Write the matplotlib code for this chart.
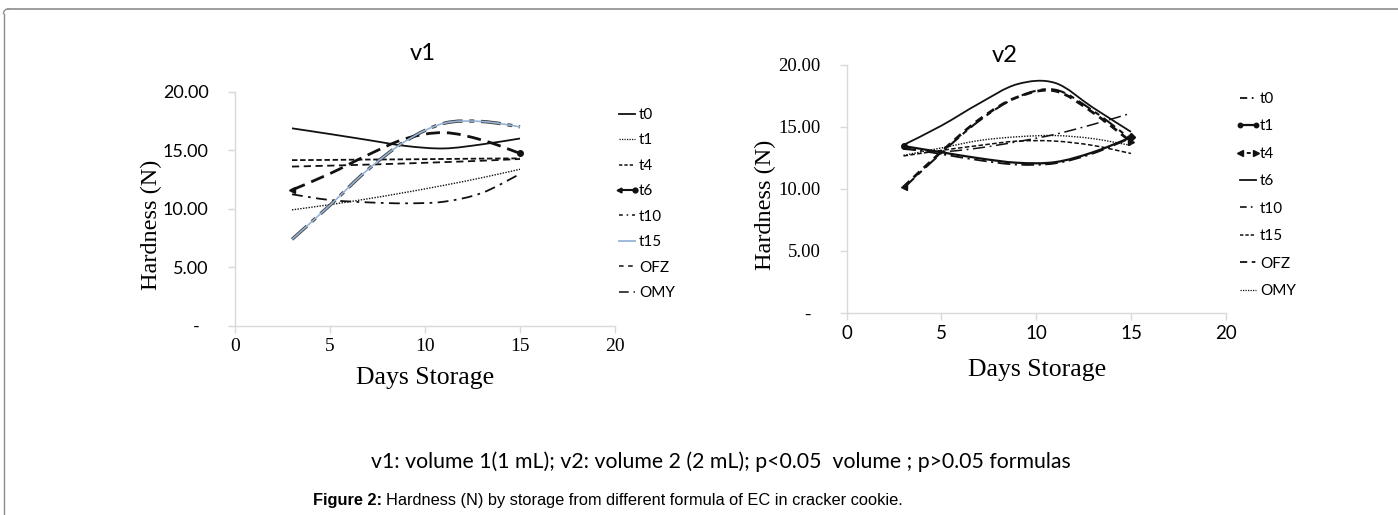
import matplotlib
matplotlib.use('Agg')
import matplotlib.pyplot as plt
from matplotlib.path import Path
from matplotlib.patches import PathPatch
from matplotlib.lines import Line2D
from matplotlib.legend_handler import HandlerBase
import numpy as np

# ---------------- data ----------------
days = [3, 5, 7, 9, 11, 13, 15]
series_names = ["t0", "t1", "t4", "t6", "t10", "t15", "OFZ", "OMY"]

v1_t0 = [16.87, 16.38, 15.87, 15.36, 15.15, 15.50, 16.00]
v1_t1 = [9.90, 10.35, 10.85, 11.40, 12.00, 12.65, 13.37]
v1_t4 = [14.15, 14.17, 14.20, 14.22, 14.25, 14.28, 14.30]
v1_t6 = [11.60, 13.00, 14.60, 16.00, 16.50, 15.87, 14.73]
v1_t10 = [11.23, 10.74, 10.54, 10.46, 10.60, 11.35, 12.97]
v1_t15 = [7.38, 10.30, 13.35, 15.80, 17.30, 17.45, 17.00]
v1_OFZ = [13.60, 13.68, 13.77, 13.87, 13.98, 14.10, 14.25]
v1_OMY = [7.38, 10.30, 13.35, 15.80, 17.30, 17.45, 17.00]

v2_t0 = [13.30, 12.80, 12.30, 11.95, 12.05, 12.85, 14.10]
v2_t1 = [13.45, 12.95, 12.46, 12.10, 12.15, 12.95, 14.15]
v2_t4 = [10.15, 13.00, 15.60, 17.40, 17.90, 16.15, 13.80]
v2_t6 = [13.54, 15.10, 16.90, 18.45, 18.55, 16.55, 14.60]
v2_t10 = [13.20, 13.00, 13.30, 13.80, 14.40, 15.20, 16.10]
v2_t15 = [12.65, 13.10, 13.50, 13.85, 13.85, 13.50, 12.85]
v2_OFZ = [10.05, 12.90, 15.50, 17.40, 18.00, 16.30, 14.00]
v2_OMY = [12.70, 13.30, 13.90, 14.20, 14.30, 14.05, 13.50]

x_ticks = [0, 5, 10, 15, 20]
y_ticks = [0, 5, 10, 15, 20]
y_tick_labels = ["-  ", "5.00", "10.00", "15.00", "20.00"]

SANS = ['Lato', 'DejaVu Sans']
SERIF = ['Liberation Serif', 'DejaVu Serif']
ARIAL = ['Liberation Sans Narrow', 'Liberation Sans', 'DejaVu Sans']

W, H = 1398, 515
fig = plt.figure(figsize=(W / 100, H / 100), dpi=100)


def smooth_path(x, y):
    """Excel-like smoothed line (cubic Bezier through the points)."""
    pts = np.column_stack([x, y]).astype(float)
    n = len(pts)
    verts = [pts[0]]
    codes = [Path.MOVETO]
    for i in range(n - 1):
        p0 = pts[i - 1] if i > 0 else pts[i]
        p1 = pts[i]
        p2 = pts[i + 1]
        p3 = pts[i + 2] if i + 2 < n else pts[i + 1]
        c1 = p1 + (p2 - p0) / 6.0
        c2 = p2 - (p3 - p1) / 6.0
        verts += [c1, c2, p2]
        codes += [Path.CURVE4] * 3
    return Path(verts, codes)


def draw(ax, y, color, lw, ls, zorder=3):
    ax.add_patch(PathPatch(smooth_path(days, y), facecolor='none', edgecolor=color,
                           lw=lw, linestyle=ls, capstyle='butt', joinstyle='round',
                           zorder=zorder))


class EndMarkerHandle:
    def __init__(self, color, lw, ls, m0, m1, ms):
        self.color, self.lw, self.ls = color, lw, ls
        self.m0, self.m1, self.ms = m0, m1, ms


class EndMarkerHandler(HandlerBase):
    def create_artists(self, legend, h, xdescent, ydescent, width, height, fontsize, trans):
        y = height / 2.0 - ydescent
        x0, x1 = -xdescent + 1.5, width - xdescent - 1.5
        arts = [Line2D([x0, x1], [y, y], color=h.color, lw=h.lw, ls=h.ls)]
        if h.m0:
            arts.append(Line2D([x0], [y], lw=0, marker=h.m0, ms=h.ms, color=h.color))
        if h.m1:
            arts.append(Line2D([x1], [y], lw=0, marker=h.m1, ms=h.ms, color=h.color))
        for a in arts:
            a.set_transform(trans)
        return arts


def px_axes(l, r, b, t):
    return fig.add_axes([l / W, 1 - b / H, (r - l) / W, (b - t) / H])


def style_axes(ax, xfont, yfont, xsize, ysize):
    ax.set_xlim(0, 20)
    ax.set_ylim(0, 20)
    for s in ['top', 'right']:
        ax.spines[s].set_visible(False)
    for s in ['left', 'bottom']:
        ax.spines[s].set_color('#d9d9d9')
        ax.spines[s].set_linewidth(1.0)
    ax.set_xticks(x_ticks)
    ax.set_yticks(y_ticks)
    ax.set_yticklabels(y_tick_labels)
    ax.tick_params(axis='both', direction='out', length=5, color='#d9d9d9', width=1.0)
    ax.tick_params(axis='y', pad=14)
    ax.tick_params(axis='x', pad=4)
    for lab in ax.get_xticklabels():
        lab.set_fontfamily(xfont)
        lab.set_fontsize(xsize)
    for lab in ax.get_yticklabels():
        lab.set_fontfamily(yfont)
        lab.set_fontsize(ysize)
    ax.patch.set_alpha(0)


K = '#111111'
LEG_KW = dict(loc='upper left', frameon=False, handlelength=1.3, handletextpad=0.15,
              prop={'family': SANS, 'size': 11}, borderaxespad=0, borderpad=0)

# ---------------- left chart (v1) ----------------
ax1 = px_axes(235, 615, 325.7, 91.7)
style_axes(ax1, SERIF, SANS, 14, 13)
draw(ax1, v1_t0, K, 1.3, '-')
draw(ax1, v1_t1, K, 1.0, (0, (1, 1)))
draw(ax1, v1_t4, K, 1.3, (0, (3, 1.5)))
draw(ax1, v1_t6, K, 2.0, (0, (5, 2.5)), zorder=4)
ax1.plot([days[0]], [v1_t6[0]], marker='<', ms=4, color=K, zorder=5)
ax1.plot([days[-1]], [v1_t6[-1]], marker='o', ms=4, color=K, zorder=5)
draw(ax1, v1_t10, K, 1.3, (0, (6, 3, 1.5, 3)))
draw(ax1, v1_OMY, '#404040', 2.4, (0, (6, 2, 1.5, 2)), zorder=3)
draw(ax1, v1_t15, '#95b3d7', 1.2, '-', zorder=4)
draw(ax1, v1_OFZ, K, 1.3, (0, (4, 2.5)))

h1 = [
    EndMarkerHandle(K, 1.3, '-', None, None, 0),
    EndMarkerHandle(K, 0.9, (0, (1, 1)), None, None, 0),
    EndMarkerHandle(K, 1.1, (0, (2.2, 1.3)), None, None, 0),
    EndMarkerHandle(K, 1.5, '-', '<', 'o', 3.5),
    EndMarkerHandle(K, 1.1, (0, (2.5, 2.5, 1, 2.5)), None, None, 0),
    EndMarkerHandle('#95b3d7', 1.3, '-', None, None, 0),
    EndMarkerHandle(K, 1.1, (0, (3, 3)), None, None, 0),
    EndMarkerHandle('#404040', 1.4, (0, (5, 2.5, 1.2, 2.5)), None, None, 0),
]
fig.legend(h1, series_names, bbox_to_anchor=(617 / W, 1 - 108 / H),
           labelspacing=0.75, handler_map={EndMarkerHandle: EndMarkerHandler()}, **LEG_KW)

fig.text(423 / W, 1 - 53 / H, 'v1', family=SANS, fontsize=17, ha='center', va='center')
fig.text(151 / W, 1 - 225 / H, 'Hardness (N)', family=SERIF, fontsize=17.5,
         rotation=90, ha='center', va='center')
fig.text(425 / W, 1 - 378 / H, 'Days Storage', family=SERIF, fontsize=18.5,
         ha='center', va='center')

# ---------------- right chart (v2) ----------------
ax2 = px_axes(846.7, 1225.7, 312.5, 65)
style_axes(ax2, SANS, SERIF, 13.5, 13.5)
draw(ax2, v2_t0, K, 1.3, (0, (7, 2.5, 1.2, 2.5)))
draw(ax2, v2_t1, K, 1.6, '-')
ax2.plot([days[0]], [v2_t1[0]], marker='o', ms=4, color=K, zorder=5)
ax2.plot([days[-1]], [v2_t1[-1]], marker='D', ms=4, color=K, zorder=5)
draw(ax2, v2_t4, K, 2.0, (0, (3, 2)), zorder=4)
ax2.plot([days[0]], [v2_t4[0]], marker='<', ms=5, color=K, zorder=5)
ax2.plot([days[-1]], [v2_t4[-1]], marker='>', ms=5, color=K, zorder=5)
draw(ax2, v2_t6, K, 1.3, '-')
draw(ax2, v2_t10, K, 1.1, (0, (8, 3, 1.2, 3)))
draw(ax2, v2_t15, K, 1.1, (0, (3, 1.5)))
draw(ax2, v2_OFZ, K, 1.5, (0, (7, 2.5, 2.5, 2.5)))
draw(ax2, v2_OMY, K, 1.0, (0, (1, 1)))

h2 = [
    EndMarkerHandle(K, 1.3, (0, (4, 2.5, 1, 2.5)), None, None, 0),
    EndMarkerHandle(K, 1.6, '-', 'o', 'o', 3.2),
    EndMarkerHandle(K, 1.4, (0, (2, 1.5)), '<', '>', 4),
    EndMarkerHandle(K, 1.3, '-', None, None, 0),
    EndMarkerHandle(K, 1.2, (0, (4, 2.5, 1, 2.5)), None, None, 0),
    EndMarkerHandle(K, 1.1, (0, (2.2, 1.3)), None, None, 0),
    EndMarkerHandle(K, 1.3, (0, (4, 2.5, 2, 2.5)), None, None, 0),
    EndMarkerHandle(K, 0.9, (0, (1, 1)), None, None, 0),
]
fig.legend(h2, series_names, bbox_to_anchor=(1238 / W, 1 - 92 / H),
           labelspacing=0.88, handler_map={EndMarkerHandle: EndMarkerHandler()}, **LEG_KW)

fig.text(1005 / W, 1 - 55 / H, 'v2', family=SANS, fontsize=17, ha='center', va='center')
fig.text(765 / W, 1 - 205 / H, 'Hardness (N)', family=SERIF, fontsize=17.5,
         rotation=90, ha='center', va='center')
fig.text(1037 / W, 1 - 370 / H, 'Days Storage', family=SERIF, fontsize=18.5,
         ha='center', va='center')

# ---------------- captions and frame ----------------
fig.text(721 / W, 1 - 462 / H,
         'v1: volume 1(1 mL); v2: volume 2 (2 mL); p<0.05  volume ; p>0.05 formulas',
         family=SANS, fontsize=15.3, ha='center', va='center')
t = fig.text(313 / W, 1 - 500 / H, 'Figure 2:', family=ARIAL, fontsize=11.8,
             weight='bold', ha='left', va='center')
fig.canvas.draw()
bb = t.get_window_extent()
fig.text((bb.x1 + 4) / W, 1 - 500 / H,
         'Hardness (N) by storage from different formula of EC in cracker cookie.',
         family=ARIAL, fontsize=11.8, ha='left', va='center')

fig.add_artist(Line2D([8 / W, 1.0], [1 - 9 / H, 1 - 9 / H], color='#8c8c8c', lw=1.2))
fig.add_artist(Line2D([3.5 / W, 3.5 / W], [1 - 14 / H, 0], color='#8c8c8c', lw=1.0))
theta = np.linspace(np.pi / 2, np.pi, 20)
fig.add_artist(Line2D((8 + 4.5 * np.cos(theta)) / W, 1 - (13.5 - 4.5 * np.sin(theta)) / H,
                      color='#8c8c8c', lw=1.0))

fig.savefig('out.png', dpi=100)
